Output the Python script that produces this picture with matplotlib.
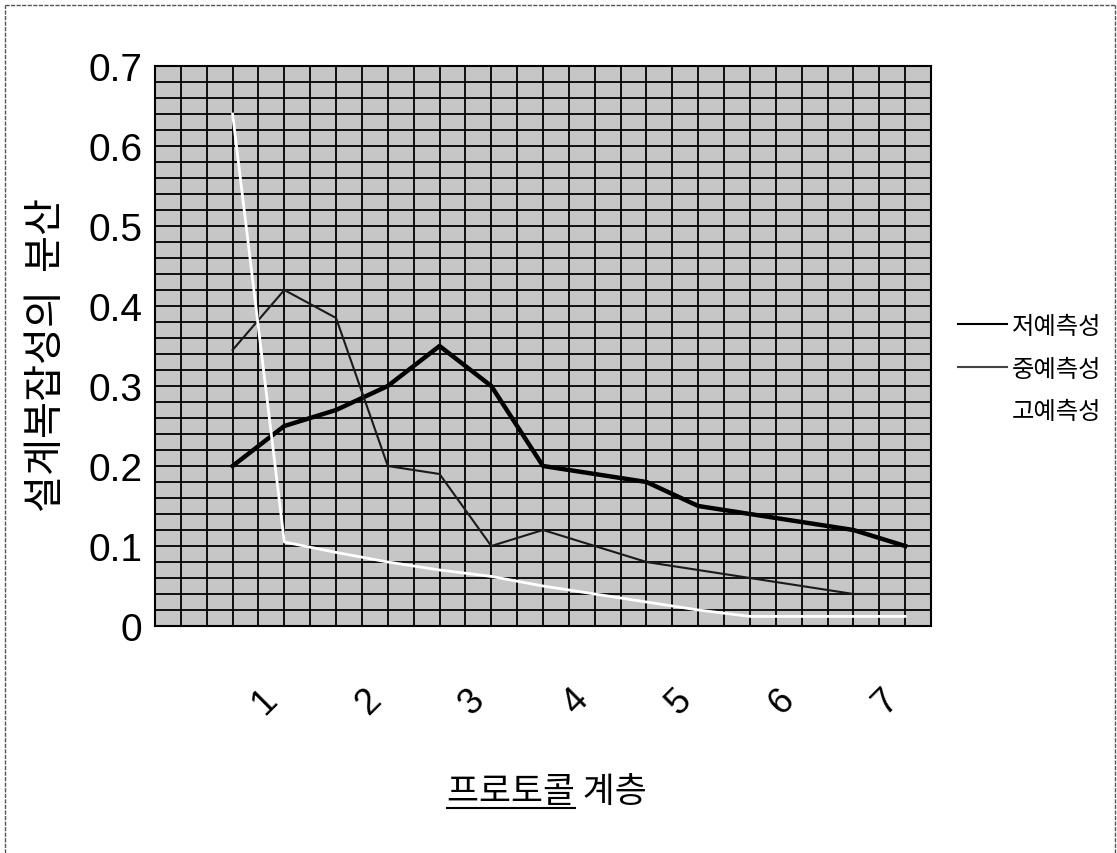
import matplotlib
matplotlib.use("Agg")
import matplotlib.pyplot as plt
from matplotlib.lines import Line2D
import numpy as np

# ---- data ----
x_points = list(range(14))
low_pred = [0.20, 0.25, 0.27, 0.30, 0.35, 0.30, 0.20, 0.19, 0.18, 0.15, 0.14, 0.13, 0.12, 0.10]
mid_pred = [0.345, 0.42, 0.385, 0.20, 0.19, 0.10, 0.12, 0.10, 0.08, 0.07, 0.06, 0.05, 0.04, 0.04]
high_pred = [0.64, 0.105, 0.092, 0.08, 0.07, 0.062, 0.05, 0.04, 0.03, 0.02, 0.012, 0.012, 0.012, 0.012]
series_names = ["저예측성", "중예측성", "고예측성"]
x_tick_labels = ["1", "2", "3", "4", "5", "6", "7"]
y_ticks = [0, 0.1, 0.2, 0.3, 0.4, 0.5, 0.6, 0.7]
y_tick_labels = ["0", "0.1", "0.2", "0.3", "0.4", "0.5", "0.6", "0.7"]
x_label = "프로토콜 계층"
y_label = "설계복잡성의  분산"

KR = ["Noto Sans CJK KR", "DejaVu Sans"]
NUM = ["Liberation Sans", "DejaVu Sans"]

W, H = 1117, 854
fig = plt.figure(figsize=(W / 100, H / 100), dpi=100)
fig.patch.set_facecolor("white")

ax = fig.add_axes([155 / W, 1 - 627 / H, (931 - 155) / W, (627 - 67) / H])
ax.set_facecolor("#c6c6c6")
ax.set_xlim(-1.5, 13.5)
ax.set_ylim(0, 0.7)

# grid
for gx in np.arange(-1.0, 13.5, 0.5):
    ax.axvline(gx, color="black", lw=1.3, zorder=1)
for gy in np.arange(0.02, 0.7, 0.02):
    ax.axhline(gy, color="black", lw=1.3, zorder=1)

ax.plot(x_points, low_pred, color="black", lw=3.2, zorder=3)
ax.plot(x_points, mid_pred, color="#1a1a1a", lw=1.5, zorder=3)
ax.plot(x_points, high_pred, color="white", lw=2.0, zorder=3)

for s in ax.spines.values():
    s.set_color("black")
    s.set_linewidth(1.5)

ax.set_yticks(y_ticks)
ax.set_yticklabels(y_tick_labels, family=NUM, fontsize=28)
ax.tick_params(axis="y", length=0, pad=9)

tick_pos = [0.62 + 2 * i for i in range(len(x_tick_labels))]
ax.set_xticks(tick_pos)
ax.set_xticklabels(x_tick_labels, family=NUM, fontsize=26, rotation=45)
ax.tick_params(axis="x", length=0, pad=40)

# y label
fig.text(47 / W, 1 - 355 / H, y_label, rotation=90, ha="center", va="center",
         family=KR, fontsize=29)

# x label with underline under first word
xl = fig.text(547 / W, 1 - 793 / H, x_label, ha="center", va="center",
              family=KR, fontsize=25)
fig.canvas.draw()
r = fig.canvas.get_renderer()
bb = xl.get_window_extent(r)
tmp = fig.text(0, 0, x_label.split(" ")[0], family=KR, fontsize=25)
wfirst = tmp.get_window_extent(r).width
tmp.remove()
uy = bb.y0 + 2
fig.add_artist(Line2D([bb.x0 / W, (bb.x0 + wfirst) / W], [uy / H, uy / H],
                      color="black", lw=1.5, transform=fig.transFigure))

# legend
ax.legend([Line2D([], [], color="black", lw=1.5),
           Line2D([], [], color="#444444", lw=1.5),
           Line2D([], [], color="white", lw=1.5)],
          series_names, loc="upper left",
          bbox_to_anchor=(958 / W, 1 - 314 / H), bbox_transform=fig.transFigure,
          borderaxespad=0, borderpad=0,
          frameon=False, prop={"family": KR, "size": 17.5},
          handlelength=2.0, handletextpad=0.22, labelspacing=0.68)

# figure border (left, top, right)
bc = dict(color="#555555", lw=1.0, ls=(0, (3, 1)), transform=fig.transFigure)
fig.add_artist(Line2D([5 / W, 5 / W], [0, 1 - 6 / H], **bc))
fig.add_artist(Line2D([5 / W, 1115 / W], [1 - 6 / H, 1 - 6 / H], **bc))
fig.add_artist(Line2D([1115 / W, 1115 / W], [0, 1 - 6 / H], **bc))

fig.savefig("out.png", dpi=100)
